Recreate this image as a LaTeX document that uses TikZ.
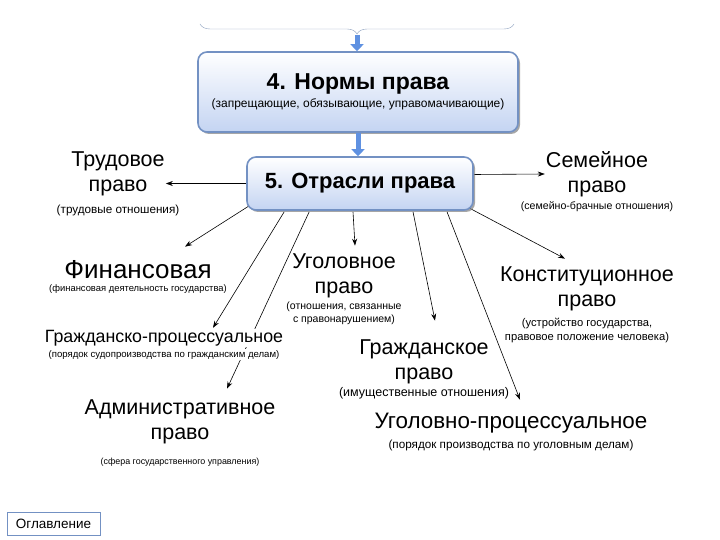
\documentclass[tikz,border=0pt]{standalone}
\usepackage{fontspec}
\setmainfont{Liberation Sans}
\usetikzlibrary{arrows.meta,calc,positioning,shadows,backgrounds,decorations.pathreplacing}
\definecolor{boxline}{RGB}{115,145,195}
\definecolor{boxfill}{RGB}{196,212,242}
\definecolor{bluearr}{RGB}{95,145,225}
\definecolor{bracecol}{RGB}{140,160,190}
\newcommand{\fs}[1]{\fontsize{#1}{1.2\dimexpr#1pt\relax}\selectfont}
\tikzset{>=Stealth,
  box/.style={draw=boxline,line width=1.6pt,rounded corners=9pt,top color=white,bottom color=boxfill,
    drop shadow={shadow xshift=2pt,shadow yshift=-2pt,opacity=.7},align=center,inner sep=2pt},
  ttl/.style={font=\fontsize{21.5}{25}\selectfont,align=center,inner sep=1pt},
  note/.style={font=\fontsize{10.5}{13}\selectfont,align=center,inner sep=1pt},
  link/.style={->,semithick,>={Stealth[length=7pt,width=5pt]}},
  feed/.style={line width=5pt,bluearr,-{Triangle[width=13pt,length=7pt]}}}

\begin{document}
\begin{tikzpicture}[x=1pt,y=-1pt]
\useasboundingbox (0,0) rectangle (720,540);
% верхние блоки
\node[box,minimum width=320,minimum height=80] (norm) at (358,92)
  {{\bfseries\fontsize{23}{28}\selectfont 4. Нормы права}\\[4pt]{\fs{12}(запрещающие, обязывающие, управомачивающие)}};
\node[box,minimum width=226,minimum height=53] (otr) at (360,183.5)
  {\bfseries\fontsize{22}{26}\selectfont 5. Отрасли права};
\coordinate (bl) at (200,24);\coordinate (br) at (514,24);\coordinate (bt) at (357,35);
\draw[bracecol,decorate,decoration={brace,mirror,amplitude=10pt}] (bl)--(br);
\draw[feed] (bt)--(bt|-norm.north);
\draw[feed] (norm.south)--(norm.south|-otr.north);
% отрасли
\node[ttl] (trud) at (118,174) {Трудовое\\право};
\node[note,font=\fs{11.7},below=6pt of trud] (trudsub) {(трудовые отношения)};
\node[ttl] (sem) at (597,174) {Семейное\\право};
\node[note,font=\fs{10.6},below=3pt of sem] (semsub) {(семейно-брачные отношения)};
\node[ttl,font=\fs{26}] (fin) at (138,270) {Финансовая};
\node[note,font=\fs{9.4},below=3pt of fin] (finsub) {(финансовая деятельность государства)};
\node[ttl,font=\fs{17.8},fill=white] (gpr) at (164,338) {Гражданско-процессуальное};
\node[note,font=\fs{9.6},below=2pt of gpr,fill=white] (gprsub) {(порядок судопроизводства по гражданским делам)};
\node[ttl] (adm) at (180,422) {Административное\\право};
\node[note,font=\fs{8.9},below=12pt of adm] (admsub) {(сфера государственного управления)};
\node[ttl] (ugol) at (344,276) {Уголовное\\право};
\node[note,below=1pt of ugol] (ugolsub) {(отношения, связанные\\с правонарушением)};
\node[ttl] (konst) at (587,289) {Конституционное\\право};
\node[note,font=\fs{11.2},below=5pt of konst] (konstsub) {(устройство государства,\\правовое положение человека)};
\node[ttl] (grazh) at (424,362) {Гражданское\\право};
\node[note,font=\fs{12.5},below=1pt of grazh] (grazhsub) {(имущественные отношения)};
\node[ttl,font=\fs{22.4}] (upr) at (511,423) {Уголовно-процессуальное};
\node[note,font=\fs{11.7},below=5pt of upr] (uprsub) {(порядок производства по уголовным делам)};
\node[draw=boxline,line width=1pt,minimum width=93,minimum height=23,font=\fs{13.5}] (toc) at (53.5,523.5) {Оглавление};
% связи
\begin{scope}[on background layer]
\draw[link] (otr.west)--(otr.west-|trud.east);
\draw[link] ($(otr.east)+(0,-9)$)--(sem.west);
\draw[link] ($(otr.south west)+(3,-5)$)--($(fin.north)+(47,-13)$);
\draw[link] ($(otr.south west)+(38,1)$)--($(gpr.north)+(49,-1)$);
\draw[link] ($(otr.south west)+(63,1)$)--($(adm.north)+(47,-10)$);
\draw[link] ($(otr.south)+(-7,1)$)--($(ugol.north)+(11,-7)$);
\draw[link] ($(otr.south)+(53,1)$)--($(grazh.north)+(11,-18)$);
\draw[link] ($(otr.south)+(87,1)$)--($(upr.north)+(9,-12)$);
\draw[link] ($(otr.south east)+(-5,-3)$)--($(konst.north)+(-22,-7)$);
\end{scope}
\end{tikzpicture}
\end{document}
